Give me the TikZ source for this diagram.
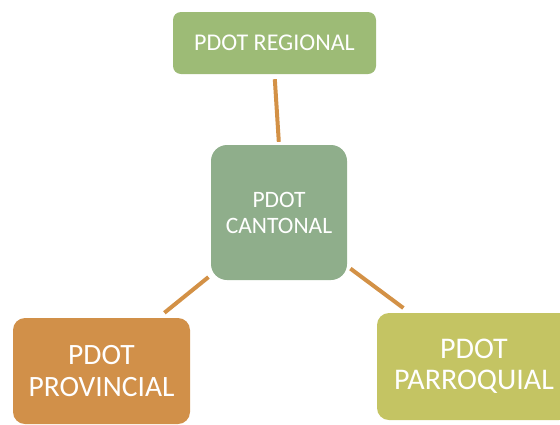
\documentclass[tikz,border=0pt]{standalone}
\usepackage{fontspec}
\setmainfont{Carlito}
\definecolor{cregional}{RGB}{157,187,118}
\definecolor{ccantonal}{RGB}{143,174,139}
\definecolor{cprovincial}{RGB}{209,144,73}
\definecolor{cparroquial}{RGB}{196,196,99}
\definecolor{cline}{RGB}{211,145,70}
\tikzset{
  pbox/.style={rectangle, fill=#1, draw=none, text=white, align=center, inner sep=0pt},
  link/.style={draw=cline, line width=4pt}
}
\begin{document}
\begin{tikzpicture}[x=1pt,y=-1pt]
\useasboundingbox (0,0) rectangle (560,424);
\node[pbox=cregional, minimum width=203pt, minimum height=62pt, rounded corners=8pt,
  font=\fontsize{24}{29}\selectfont] (reg) at (274.5,43) {PDOT REGIONAL};
\node[pbox=ccantonal, minimum width=136pt, minimum height=135pt, rounded corners=16pt,
  font=\fontsize{23.5}{26}\selectfont] (can) at (279,212.5) {PDOT\\CANTONAL};
\node[pbox=cprovincial, minimum width=177pt, minimum height=106pt, rounded corners=12pt,
  font=\fontsize{29.5}{32}\selectfont] (pro) at (101.5,371) {PDOT\\PROVINCIAL};
\node[pbox=cparroquial, minimum width=194pt, minimum height=107pt, rounded corners=12pt,
  font=\fontsize{30}{31}\selectfont] (par) at (474,366.5) {PDOT\\PARROQUIAL};
\draw[link, shorten <=5pt, shorten >=3pt] (reg.south) -- (can.north);
\draw[link, shorten <=3pt, shorten >=8pt] ([yshift=5pt]can.south west) -- ([xshift=-32pt]pro.north east);
\draw[link, shorten <=4pt, shorten >=8pt] ([yshift=14pt]can.south east) -- ([xshift=33pt]par.north west);
\end{tikzpicture}
\end{document}
